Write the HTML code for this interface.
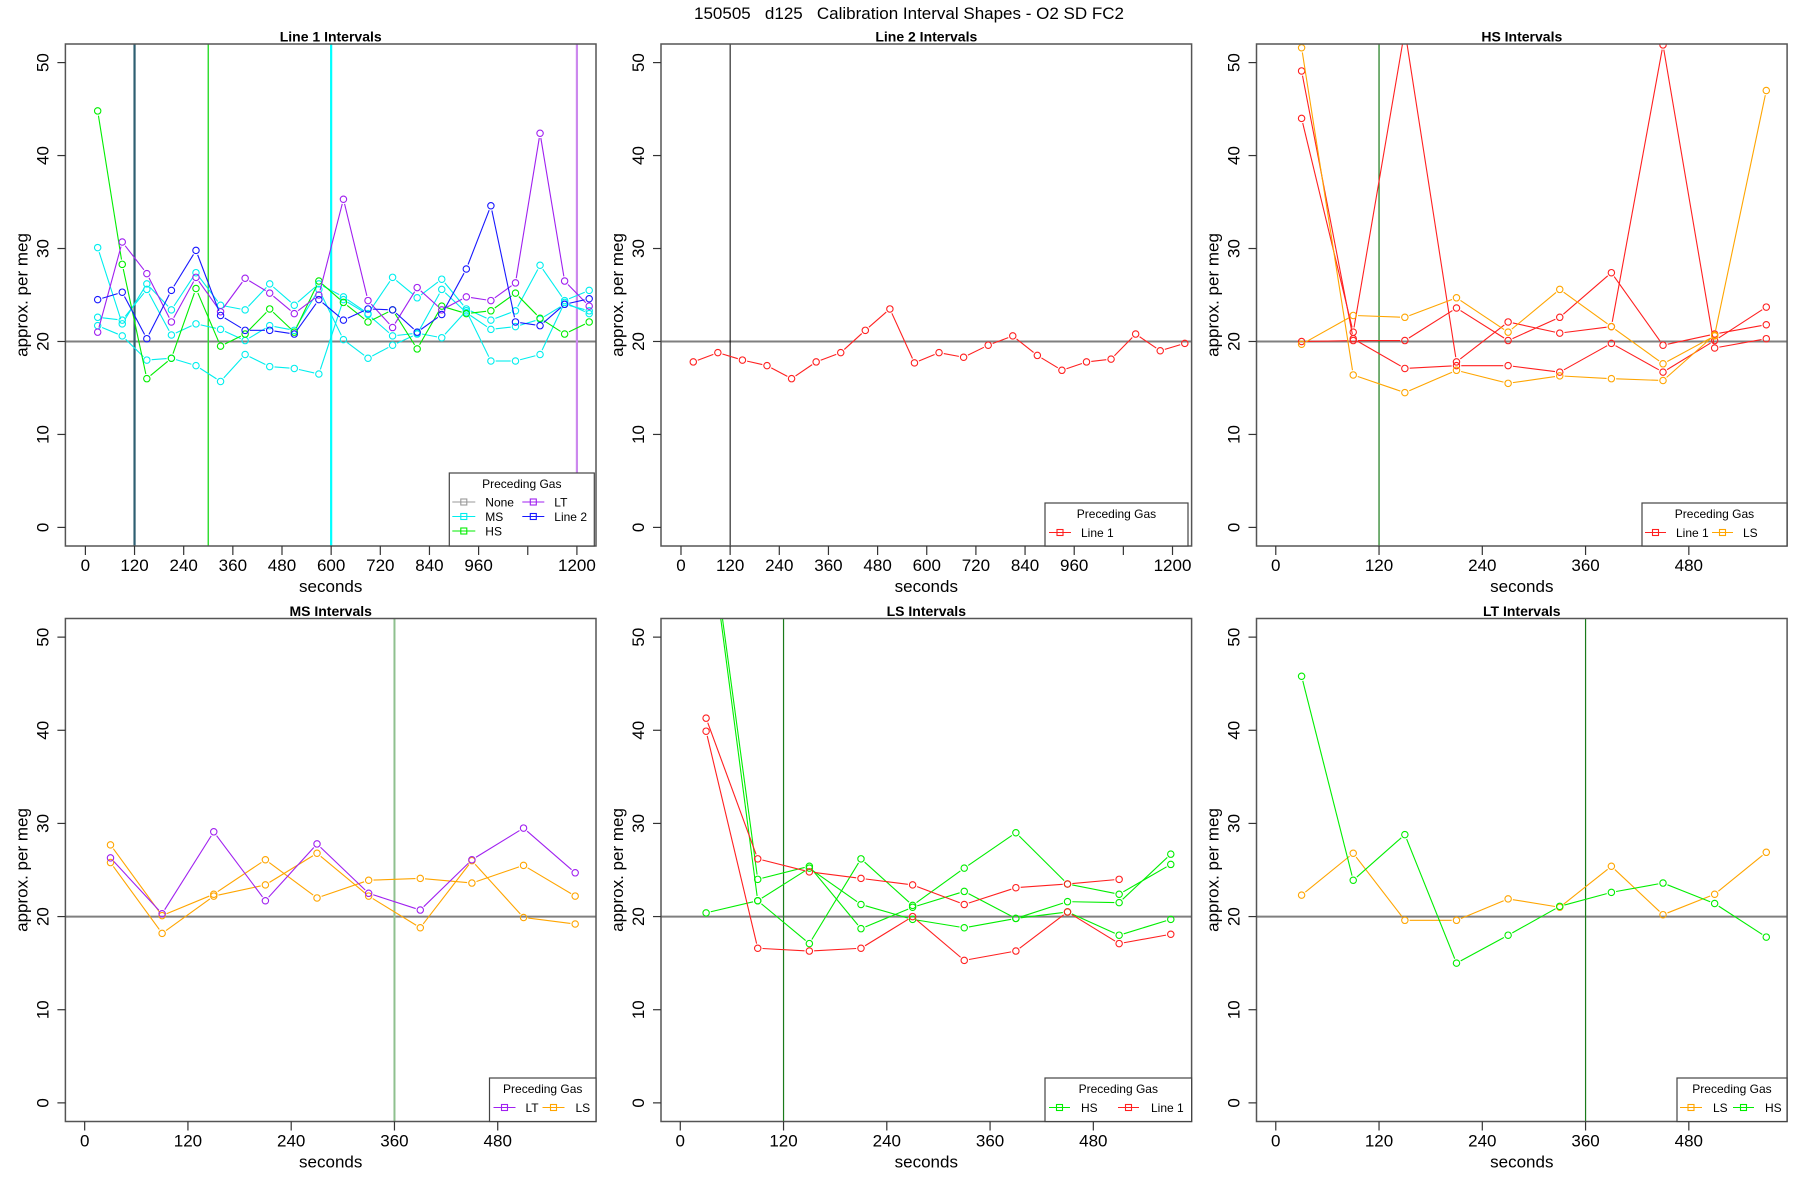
<!DOCTYPE html>
<html><head><meta charset="utf-8">
<style>
html,body{margin:0;padding:0;background:#fff;}
svg{display:block;font-family:"Liberation Sans",sans-serif;}
</style></head>
<body>
<svg id="chart" xmlns="http://www.w3.org/2000/svg" width="1800" height="1200" viewBox="0 0 1800 1200">
<rect width="1800" height="1200" fill="#fff"/>
<text x="909" y="19" font-size="17" text-anchor="middle" xml:space="preserve">150505   d125   Calibration Interval Shapes - O2 SD FC2</text>
</svg>
<script>
// ---- data ----
const longTimes = [30,90,150,210,270,330,390,450,510,570,630,690,750,810,870,930,990,1050,1110,1170,1230];
const shortTimes = [30,90,150,210,270,330,390,450,510,570];
const longTicks = [0,120,240,360,480,600,720,840,960,1080,1200];
const longTickLabels = ["0","120","240","360","480","600","720","840","960","","1200"];
const shortTicks = [0,120,240,360,480];
const shortTickLabels = ["0","120","240","360","480"];
const yTicks = [0,10,20,30,40,50];
const yTickLabels = ["0","10","20","30","40","50"];

const line1LT = [21.0,30.7,27.3,22.1,26.9,23.2,26.8,25.2,23.0,25.0,35.3,24.4,21.5,25.8,23.4,24.8,24.4,26.3,42.4,26.5,23.8];
const line1Line2 = [24.5,25.3,20.3,25.5,29.8,22.8,21.2,21.2,20.8,24.5,22.3,23.5,23.4,21.0,22.9,27.8,34.6,22.1,21.7,24.0,24.6];
const line1HS = [44.8,28.3,16.0,18.2,25.7,19.5,20.8,23.5,21.0,26.5,24.2,22.1,23.4,19.2,23.8,23.0,23.3,25.2,22.5,20.8,22.1];
const line1MSa = [30.1,21.9,26.2,23.4,27.4,23.9,23.4,26.2,23.9,26.2,24.8,23.0,26.9,24.7,26.7,23.5,22.3,23.3,28.2,24.4,25.5];
const line1MSb = [22.6,22.3,25.6,20.7,21.9,21.3,20.1,21.7,21.2,25.6,20.2,18.2,19.6,20.8,25.6,23.1,21.3,21.6,22.4,24.0,23.3];
const line1MSc = [21.7,20.6,18.0,18.2,17.4,15.7,18.6,17.3,17.1,16.5,24.5,22.9,20.6,20.9,20.4,23.3,17.9,17.9,18.6,24.2,23.0];

const line2Line1 = [17.8,18.8,18.0,17.4,16.0,17.8,18.8,21.2,23.5,17.7,18.8,18.3,19.6,20.6,18.5,16.9,17.8,18.1,20.8,19.0,19.8];

const hsLine1a = [44.0,21.0,53.5,17.8,22.1,20.9,21.6,51.9,19.3,20.3];
const hsLine1b = [49.1,20.3,17.1,17.4,17.4,16.7,19.8,16.7,20.1,23.7];
const hsLine1c = [20.0,20.1,20.1,23.6,20.1,22.6,27.4,19.6,20.8,21.8];
const hsLSa = [51.6,16.4,14.5,16.9,15.5,16.3,16.0,15.8,20.7,47.0];
const hsLSb = [19.7,22.8,22.6,24.7,21.0,25.6,21.6,17.6,20.6];

const msLT = [26.3,20.3,29.1,21.7,27.8,22.5,20.7,26.1,29.5,24.7];
const msLSa = [27.7,20.1,22.4,26.1,22.0,23.9,24.1,23.6,25.5,22.2];
const msLSb = [25.8,18.2,22.2,23.4,26.8,22.2,18.8,26.0,19.9,19.2];

const lsHSa = [65.0,24.0,25.4,18.7,21.0,22.7,19.8,21.6,21.5,26.7];
const lsHSb = [64.0,21.7,25.2,21.3,19.7,18.8,19.8,20.5,18.0,19.7];
const lsHSc = [20.4,21.7,17.1,26.2,21.2,25.2,29.0,23.5,22.4,25.6];
const lsLine1a = [41.3,26.2,24.8,24.1,23.4,21.3,23.1,23.5,24.0];
const lsLine1b = [39.9,16.6,16.3,16.6,20.0,15.3,16.3,20.5,17.1,18.1];

const ltLS = [22.3,26.8,19.6,19.6,21.9,21.0,25.4,20.2,22.4,26.9];
const ltHS = [45.8,23.9,28.8,15.0,18.0,21.1,22.6,23.6,21.4,17.8];

const C = {red:"#ff2020",orange:"#ffa500",green:"#00ee00",cyan:"#00eeee",purple:"#a020f0",blue:"#1818ff",gray:"#999999"};

const panels = [
 {name:"line-1",title:"Line 1 Intervals",x:65.4,y:44,w:530.6,h:502,xlim:[-48.8,1246.6],ticks:longTicks,tl:longTickLabels,
  vlines:[{v:120,c:"#2e5f72",w:2.2},{v:300,c:"#33dd33",w:1.5},{v:600,c:"#00ffff",w:2.2},{v:1200,c:"#cc88ee",w:2.2}],
  series:[{t:longTimes,v:line1MSa,c:C.cyan,n:"ms-a"},{t:longTimes,v:line1MSb,c:C.cyan,n:"ms-b"},{t:longTimes,v:line1MSc,c:C.cyan,n:"ms-c"},
   {t:longTimes,v:line1HS,c:C.green,n:"hs"},{t:longTimes,v:line1LT,c:C.purple,n:"lt"},{t:longTimes,v:line1Line2,c:C.blue,n:"line-2"}],
  legend:{x:449.3,y:473,w:145,h:73,rows:3,items:[["None",C.gray,0,0],["MS",C.cyan,0,1],["HS",C.green,0,2],["LT",C.purple,1,0],["Line 2",C.blue,1,1]],cols:[[3,26,36],[73,95,105]]}},
 {name:"line-2",title:"Line 2 Intervals",x:661,y:44,w:530.6,h:502,xlim:[-48.8,1246.6],ticks:longTicks,tl:longTickLabels,
  vlines:[{v:120,c:"#000",w:1}],
  series:[{t:longTimes,v:line2Line1,c:C.red,n:"line-1"}],
  legend:{x:1045,y:503,w:143,h:43,rows:1,items:[["Line 1",C.red,0,0]],cols:[[4,26,36]]}},
 {name:"hs",title:"HS Intervals",x:1256.5,y:44,w:530.6,h:502,xlim:[-22.4,594.2],ticks:shortTicks,tl:shortTickLabels,
  vlines:[{v:120,c:"#1a7a1a",w:1.2}],
  series:[{t:shortTimes,v:hsLine1a,c:C.red,n:"line-1-a"},{t:shortTimes,v:hsLine1b,c:C.red,n:"line-1-b"},{t:shortTimes,v:hsLine1c,c:C.red,n:"line-1-c"},
   {t:shortTimes,v:hsLSa,c:C.orange,n:"ls-a"},{t:shortTimes,v:hsLSb,c:C.orange,n:"ls-b"}],
  legend:{x:1642,y:503,w:145,h:43,rows:1,items:[["Line 1",C.red,0,0],["LS",C.orange,1,0]],cols:[[3,24,34],[70,91,101]]}},
 {name:"ms",title:"MS Intervals",x:65.4,y:618.5,w:530.6,h:503,xlim:[-22.4,594.2],ticks:shortTicks,tl:shortTickLabels,
  vlines:[{v:360,c:"#8fc08f",w:2}],
  series:[{t:shortTimes,v:msLSa,c:C.orange,n:"ls-a"},{t:shortTimes,v:msLSb,c:C.orange,n:"ls-b"},{t:shortTimes,v:msLT,c:C.purple,n:"lt"}],
  legend:{x:489.5,y:1078,w:106.5,h:43.5,rows:1,items:[["LT",C.purple,0,0],["LS",C.orange,1,0]],cols:[[4,26,36],[53,75,86]]}},
 {name:"ls",title:"LS Intervals",x:661,y:618.5,w:530.6,h:503,xlim:[-22.4,594.2],ticks:shortTicks,tl:shortTickLabels,
  vlines:[{v:120,c:"#1a7a1a",w:1.2}],
  series:[{t:shortTimes,v:lsHSa,c:C.green,n:"hs-a"},{t:shortTimes,v:lsHSb,c:C.green,n:"hs-b"},{t:shortTimes,v:lsHSc,c:C.green,n:"hs-c"},
   {t:shortTimes,v:lsLine1a,c:C.red,n:"line-1-a"},{t:shortTimes,v:lsLine1b,c:C.red,n:"line-1-b"}],
  legend:{x:1045,y:1078,w:146.6,h:43.5,rows:1,items:[["HS",C.green,0,0],["Line 1",C.red,1,0]],cols:[[4,25,36],[73,94,106]]}},
 {name:"lt",title:"LT Intervals",x:1256.5,y:618.5,w:530.6,h:503,xlim:[-22.4,594.2],ticks:shortTicks,tl:shortTickLabels,
  vlines:[{v:360,c:"#1a7a1a",w:1.2}],
  series:[{t:shortTimes,v:ltLS,c:C.orange,n:"ls"},{t:shortTimes,v:ltHS,c:C.green,n:"hs"}],
  legend:{x:1677,y:1078,w:110,h:43.5,rows:1,items:[["LS",C.orange,0,0],["HS",C.green,1,0]],cols:[[3,25,36],[56,77,88]]}}
];

const NS="http://www.w3.org/2000/svg";
const svg=document.getElementById("chart");
function mk(tag,attrs,parent){const e=document.createElementNS(NS,tag);for(const k in attrs)e.setAttribute(k,attrs[k]);(parent||svg).appendChild(e);return e;}
const YLIM=[-2,52];

panels.forEach((p,pi)=>{
  const g=mk("g",{});
  
  
  const sx=v=>p.x+(v-p.xlim[0])/(p.xlim[1]-p.xlim[0])*p.w;
  const sy=v=>p.y+p.h-(v-YLIM[0])/(YLIM[1]-YLIM[0])*p.h;
  const cp=mk("clipPath",{id:"clip"+pi},g);
  mk("rect",{x:p.x,y:p.y,width:p.w,height:p.h},cp);
  const title=mk("text",{x:p.x+p.w/2,y:p.y-2.5,"font-size":14,"font-weight":"bold","text-anchor":"middle"},g);
  title.textContent=p.title;
  
  
  const plot=mk("g",{"clip-path":"url(#clip"+pi+")"},g);
  
  
  const ref=mk("line",{x1:p.x,x2:p.x+p.w,y1:sy(20),y2:sy(20),stroke:"#7f7f7f","stroke-width":2},plot);
  
  
  p.vlines.forEach(vl=>{
    const l=mk("line",{x1:sx(vl.v),x2:sx(vl.v),y1:p.y,y2:p.y+p.h,stroke:vl.c,"stroke-width":vl.w},plot);
    
    
  });
  const R=3.2,gap=R+1.6;
  p.series.forEach(s=>{
    const sg=mk("g",{},plot);
    
    
    const pts=s.v.map((v,i)=>[sx(s.t[i]),sy(v)]);
    for(let i=0;i<pts.length-1;i++){
      const [x1,y1]=pts[i],[x2,y2]=pts[i+1];
      const d=Math.hypot(x2-x1,y2-y1);
      if(d<=2*gap+1)continue;
      const ux=(x2-x1)/d,uy=(y2-y1)/d;
      const seg=mk("line",{x1:x1+ux*gap,y1:y1+uy*gap,x2:x2-ux*gap,y2:y2-uy*gap,stroke:s.c,"stroke-width":1.1},sg);
      
      
    }
    pts.forEach(pt=>{
      const c=mk("circle",{cx:pt[0],cy:pt[1],r:R,fill:"none",stroke:s.c,"stroke-width":1.1},sg);
      
      
    });
  });
  const box=mk("rect",{x:p.x,y:p.y,width:p.w,height:p.h,fill:"none",stroke:"#555","stroke-width":1.5},g);
  
  
  const xa=mk("g",{},g);
  
  
  p.ticks.forEach((t,i)=>{
    const x=sx(t);
    mk("line",{x1:x,x2:x,y1:p.y+p.h,y2:p.y+p.h+9,stroke:"#333","stroke-width":1.2},xa);
    if(p.tl[i]){const tx=mk("text",{x:x,y:p.y+p.h+25,"font-size":17,"text-anchor":"middle"},xa);tx.textContent=p.tl[i];
      
      }
  });
  const xl=mk("text",{x:p.x+p.w/2,y:p.y+p.h+46,"font-size":17,"text-anchor":"middle"},g);
  xl.textContent="seconds";
  
  
  const ya=mk("g",{},g);
  
  
  yTicks.forEach((t,i)=>{
    const y=sy(t);
    mk("line",{x1:p.x-8,x2:p.x,y1:y,y2:y,stroke:"#333","stroke-width":1.2},ya);
    const tx=mk("text",{x:0,y:0,"font-size":17,"text-anchor":"middle",transform:`translate(${p.x-17},${y}) rotate(-90)`},ya);
    tx.textContent=yTickLabels[i];
    
    
  });
  const yl=mk("text",{x:0,y:0,"font-size":17,"text-anchor":"middle",transform:`translate(${p.x-38},${p.y+p.h/2}) rotate(-90)`},g);
  yl.textContent="approx. per meg";
  
  
  const L=p.legend;
  const lg=mk("g",{},g);
  
  
  mk("rect",{x:L.x,y:L.y,width:L.w,height:L.h,fill:"#fff",stroke:"#444","stroke-width":1.2},lg);
  const lt=mk("text",{x:L.x+L.w/2,y:L.y+15,"font-size":12,"text-anchor":"middle"},lg);
  lt.textContent="Preceding Gas";
  L.items.forEach(it=>{
    const col=L.cols[it[2]];
    const cy=L.y+(L.rows===3?29:29.5)+it[3]*14.5;
    const eg=mk("g",{},lg);
    
    
    mk("line",{x1:L.x+col[0],x2:L.x+col[1],y1:cy,y2:cy,stroke:it[1],"stroke-width":1.1},eg);
    const mx=L.x+(col[0]+col[1])/2;
    mk("rect",{x:mx-3,y:cy-3,width:6,height:6,fill:"none",stroke:it[1],"stroke-width":1.1},eg);
    const et=mk("text",{x:L.x+col[2],y:cy+4.3,"font-size":12},eg);
    et.textContent=it[0];
  });
});
</script>
</body></html>
